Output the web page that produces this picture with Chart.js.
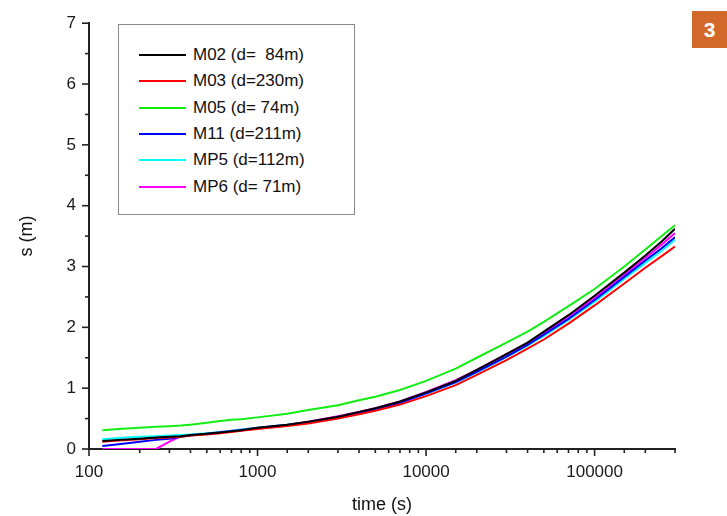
<!DOCTYPE html>
<html>
<head>
<meta charset="utf-8">
<script src="https://cdn.jsdelivr.net/npm/chart.js@4/dist/chart.umd.min.js"></script>
<style>
  html, body { margin: 0; padding: 0; background: #fff; }
  #wrap { position: relative; width: 727px; height: 516px; overflow: hidden; }
  #c { position: absolute; left: 0; top: 0; }
  #legend { position: absolute; left: 118px; top: 24px; width: 237px; height: 191px;
            border: 1px solid #8a8a8a; background: #fff; box-sizing: border-box; }
  .row { position: absolute; left: 0; height: 20px; font: 17px "Liberation Sans", Arial, sans-serif; color: #111; white-space: pre; }
  .row .ln { position: absolute; left: 20px; top: 9px; width: 47px; height: 2px; }
  .row .tx { position: absolute; left: 74px; top: 0; line-height: 20px; }
  #badge { position: absolute; left: 692px; top: 11px; width: 35px; height: 37px; background: #D2692B;
           color: #fff; font: bold 21px "Liberation Sans", Arial, sans-serif; text-align: center; line-height: 37px; }
</style>
</head>
<body>
<div id="wrap">
  <canvas id="c" width="727" height="516"></canvas>
  <div id="legend"></div>
  <div id="badge">3</div>
</div>
<script>
const times = [120,150,200,250,300,350,400,500,600,700,800,1000,1500,2000,3000,4000,5000,7000,10000,15000,20000,30000,40000,50000,70000,100000,150000,200000,250000,300000];

const labels = ["M02 (d=  84m)", "M03 (d=230m)", "M05 (d= 74m)", "M11 (d=211m)", "MP5 (d=112m)", "MP6 (d= 71m)"];
const colors = ["#000000", "#ff0000", "#11ee11", "#0000ff", "#00ffff", "#ff00ff"];

const m02 = [0.13,0.15,0.17,0.19,0.20,0.21,0.23,0.25,0.27,0.29,0.31,0.35,0.40,0.45,0.53,0.61,0.67,0.78,0.93,1.12,1.30,1.56,1.75,1.93,2.20,2.52,2.90,3.18,3.41,3.62];
const m03 = [0.12,0.14,0.16,0.18,0.19,0.20,0.22,0.24,0.26,0.28,0.30,0.33,0.38,0.42,0.50,0.57,0.63,0.73,0.87,1.05,1.22,1.46,1.65,1.80,2.06,2.36,2.72,2.98,3.17,3.33];
const m05 = [0.31,0.33,0.35,0.365,0.375,0.385,0.40,0.43,0.46,0.48,0.49,0.52,0.58,0.64,0.72,0.80,0.86,0.97,1.12,1.32,1.50,1.75,1.93,2.09,2.35,2.63,3.00,3.28,3.50,3.68];
const m11 = [0.05,0.08,0.12,0.15,0.17,0.20,0.22,0.25,0.27,0.29,0.31,0.34,0.39,0.44,0.52,0.59,0.65,0.76,0.91,1.10,1.27,1.52,1.71,1.88,2.14,2.45,2.83,3.10,3.30,3.48];
const mp5 = [0.16,0.18,0.20,0.21,0.22,0.23,0.24,0.26,0.28,0.30,0.32,0.35,0.40,0.44,0.52,0.59,0.65,0.76,0.91,1.09,1.26,1.51,1.70,1.86,2.12,2.42,2.80,3.06,3.26,3.44];
const mp6 = [0.00,0.00,0.00,0.00,0.12,0.21,0.23,0.25,0.28,0.30,0.32,0.35,0.40,0.45,0.54,0.61,0.67,0.78,0.94,1.13,1.30,1.56,1.74,1.91,2.18,2.48,2.86,3.14,3.36,3.55];

const series = [m02, m03, m05, m11, mp5, mp6];
const xMajor = [100, 1000, 10000, 100000];
const yLabels = [0,1,2,3,4,5,6,7];

const datasets = series.map((vals, i) => ({
  label: labels[i],
  data: vals.map((v, j) => ({ x: times[j], y: v })),
  borderColor: colors[i],
  backgroundColor: colors[i],
  borderWidth: 2,
  pointRadius: 0,
  tension: 0,
  fill: false
}));

// HTML legend
const leg = document.getElementById('legend');
labels.forEach((l, i) => {
  const r = document.createElement('div');
  r.className = 'row';
  r.style.top = (20 + i * 26.3) + 'px';
  r.innerHTML = '<div class="ln" style="background:' + colors[i] + '"></div><div class="tx"></div>';
  r.querySelector('.tx').textContent = l;
  leg.appendChild(r);
});

const tickMarks = {
  id: 'tickMarks',
  afterDraw(chart) {
    const ctx = chart.ctx;
    const xs = chart.scales.x, ys = chart.scales.y;
    const area = chart.chartArea;
    ctx.save();
    ctx.strokeStyle = '#222';
    ctx.lineWidth = 1.6;
    xs.ticks.forEach(t => {
      const p = xs.getPixelForValue(t.value);
      const major = xMajor.includes(t.value);
      const len = major ? 7 : 4;
      ctx.beginPath();
      ctx.moveTo(p, area.bottom);
      ctx.lineTo(p, area.bottom + len);
      ctx.stroke();
    });
    ys.ticks.forEach(t => {
      const p = ys.getPixelForValue(t.value);
      const major = Number.isInteger(t.value);
      const len = major ? 7 : 4;
      ctx.beginPath();
      ctx.moveTo(area.left, p);
      ctx.lineTo(area.left - len, p);
      ctx.stroke();
    });
    ctx.restore();
  }
};

new Chart(document.getElementById('c'), {
  type: 'line',
  data: { datasets },
  plugins: [tickMarks],
  options: {
    responsive: false,
    animation: false,
    layout: { padding: { left: 0, top: 17, right: 52, bottom: 0 } },
    plugins: { legend: { display: false }, tooltip: { enabled: false } },
    scales: {
      x: {
        type: 'logarithmic',
        min: 100, max: 300000,
        grid: { display: false, drawTicks: false },
        border: { display: true, color: '#222', width: 2 },
        afterFit(s) { s.height = 67; },
        ticks: {
          autoSkip: false, maxRotation: 0, padding: 13,
          color: '#1a1a1a',
          font: { family: '"Liberation Sans", Arial, sans-serif', size: 17 },
          callback(v) { return xMajor.includes(v) ? String(v) : ''; }
        },
        title: {
          display: true, text: 'time (s)', color: '#111',
          font: { family: '"Liberation Sans", Arial, sans-serif', size: 18 },
          padding: { top: 2, bottom: 0 }
        }
      },
      y: {
        min: 0, max: 7,
        grid: { display: false, drawTicks: false },
        border: { display: true, color: '#222', width: 2 },
        afterFit(s) { s.width = 89; },
        ticks: {
          stepSize: 0.5, autoSkip: false, padding: 13,
          color: '#1a1a1a',
          font: { family: '"Liberation Sans", Arial, sans-serif', size: 17 },
          callback(v) { return yLabels.includes(v) ? String(v) : ''; }
        },
        title: {
          display: true, text: 's (m)', color: '#111',
          font: { family: '"Liberation Sans", Arial, sans-serif', size: 18 },
          padding: { top: 16, bottom: 0 }
        }
      }
    }
  }
});
</script>
</body>
</html>
